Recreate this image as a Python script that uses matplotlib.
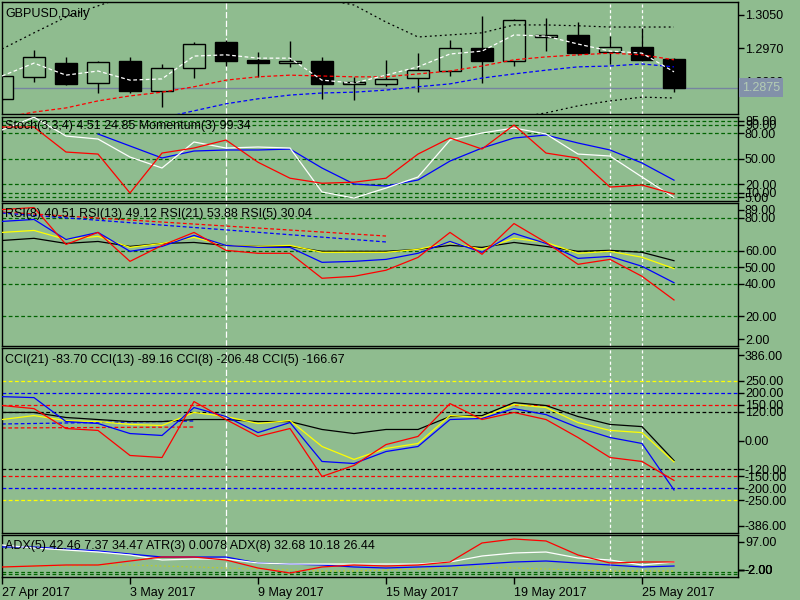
import matplotlib
matplotlib.use('Agg')
import matplotlib.pyplot as plt
import numpy as np
from matplotlib.patches import Rectangle

plt.rcParams['font.family'] = ['Liberation Sans', 'DejaVu Sans']
FS = 9
plt.rcParams['font.size'] = FS

BG = '#8fbc8f'
GRID = '#006400'

# # # DATA # # #
dates = ['27 Apr 2017', '3 May 2017', '9 May 2017', '15 May 2017', '19 May 2017', '25 May 2017']
date_idx = [0, 4, 8, 12, 16, 20]
marker_bars = [7, 19, 20]  # white dashed vertical lines

opens = [1.2848, 1.2901, 1.2934, 1.2886, 1.2939, 1.2867, 1.2922, 1.2985, 1.2942, 1.2934, 1.2939,
         1.2884, 1.2884, 1.2898, 1.2915, 1.2970, 1.2939, 1.2997, 1.3002, 1.2961, 1.2973, 1.2944]
highs = [1.2905, 1.2966, 1.2949, 1.2939, 1.2949, 1.2932, 1.2985, 1.2990, 1.2961, 1.2987, 1.2949,
         1.2901, 1.2942, 1.2958, 1.2990, 1.3048, 1.3040, 1.3043, 1.3033, 1.2999, 1.3019, 1.2946]
lows = [1.2845, 1.2889, 1.2881, 1.2862, 1.2862, 1.2828, 1.2898, 1.2927, 1.2901, 1.2925, 1.2848,
        1.2845, 1.2879, 1.2864, 1.2903, 1.2886, 1.2927, 1.2963, 1.2954, 1.2932, 1.2939, 1.2864]
closes = [1.2903, 1.2949, 1.2884, 1.2937, 1.2867, 1.2922, 1.2980, 1.2939, 1.2934, 1.2939, 1.2884,
          1.2889, 1.2896, 1.2918, 1.2970, 1.2939, 1.3038, 1.3002, 1.2958, 1.2973, 1.2942, 1.2875]

ma_fast = [1.2903, 1.2934, 1.2905, 1.2915, 1.2893, 1.2896, 1.2951, 1.2954, 1.2946, 1.2946, 1.2893,
           1.2886, 1.2905, 1.2925, 1.2956, 1.2963, 1.3002, 1.2999, 1.2980, 1.2963, 1.2958, 1.2913]
ma_mid = [1.2802, 1.2816, 1.2826, 1.2843, 1.2855, 1.2864, 1.2877, 1.2893, 1.2901, 1.2905, 1.2903,
          1.2901, 1.2901, 1.2908, 1.2915, 1.2927, 1.2942, 1.2949, 1.2954, 1.2958, 1.2954, 1.2942]
ma_slow = [1.2770, 1.2775, 1.2782, 1.2790, 1.2797, 1.2802, 1.2819, 1.2836, 1.2848, 1.2857, 1.2862,
           1.2864, 1.2869, 1.2877, 1.2884, 1.2898, 1.2908, 1.2917, 1.2925, 1.2927, 1.2932, 1.2925]
band_up = [1.2968, 1.3007, 1.3045, 1.3072, 1.3098, 1.3110, 1.3115, 1.3110, 1.3105, 1.3098, 1.3089,
           1.3074, 1.3033, 1.2997, 1.3002, 1.3007, 1.3026, 1.3026, 1.3024, 1.3021, 1.3021, 1.3021]
band_dn = [1.2790, 1.2775, 1.2755, 1.2740, 1.2728, 1.2722, 1.2718, 1.2722, 1.2730, 1.2740, 1.2752,
           1.2765, 1.2780, 1.2795, 1.2798, 1.2800, 1.2802, 1.2814, 1.2831, 1.2843, 1.2852, 1.2850]

stoch_main = [83.9, 99.0, 76.8, 73.3, 52.1, 39.2, 69.8, 62.7, 63.9, 62.7, 11.0,
              3.9, 15.6, 28.6, 72.1, 80.4, 86.2, 79.2, 55.6, 53.3, 28.6, 4.5]
stoch_signal = [np.nan, np.nan, np.nan, 79.2, 65.1, 51.0, 59.2, 60.4, 60.4, 61.5, 39.2,
                20.4, 18.0, 25.1, 47.4, 62.7, 74.5, 78.0, 68.6, 60.4, 45.1, 24.9]
momentum = [87.4, 87.4, 58.0, 55.6, 9.8, 56.8, 62.7, 72.1, 46.0, 27.2, 21.3,
            22.5, 27.2, 55.6, 74.5, 61.5, 89.8, 56.8, 50.9, 16.8, 19.2, 8.6]

rsi5 = [85.0, 86.2, 63.8, 71.1, 53.5, 63.2, 71.1, 60.2, 58.4, 58.4, 43.2,
        44.4, 48.1, 55.9, 71.1, 57.8, 76.5, 65.0, 51.7, 54.7, 44.4, 30.0]
rsi8 = [77.8, 79.0, 66.8, 71.1, 59.6, 62.6, 69.3, 63.2, 62.0, 62.0, 52.9,
        53.5, 54.7, 58.4, 65.6, 59.0, 70.5, 64.4, 55.3, 56.5, 50.5, 40.5]
rsi13 = [71.1, 72.3, 66.8, 68.7, 62.0, 64.4, 68.1, 63.2, 62.6, 63.2, 59.0,
         59.0, 59.0, 60.8, 65.0, 60.8, 67.5, 65.0, 58.4, 59.6, 56.0, 49.1]
rsi21 = [66.2, 67.5, 64.4, 65.6, 62.6, 64.4, 65.0, 63.2, 62.6, 62.6, 59.6,
         59.6, 59.6, 60.8, 63.2, 62.0, 65.0, 62.6, 59.6, 60.2, 59.0, 53.9]
rsi_trend_x = [0, 12]
rsi_trend_red = [83.5, 68.9]
rsi_trend_blue = [82.9, 65.3]

cci21 = [117, 117, 96, 87.5, 79, 79, 87.5, 87.5, 79, 79, 46,
         29, 46, 46, 100, 104, 158, 146, 100, 67, 58, -83.7]
cci13 = [87.5, 104, 83, 79, 67, 62.5, 117, 100, 71, 83, -25,
         -79, -33, -12.5, 104, 96, 150, 137.5, 75, 42, 33, -89.2]
cci8 = [183, 179, 79, 71, 29, 21, 137.5, 100, 33, 75, -87.5,
        -96, -46, -25, 87.5, 92, 133, 108, 54, 12.5, -12.5, -206.5]
cci5 = [146, 133, 50, 42, -62.5, -71, 162.5, 87.5, 17, 50, -150,
        -104, -17, 17, 154, 87.5, 117, 87.5, 12.5, -71, -87.5, -166.7]
cci_trend_x = [0, 6]
cci_trend_blue = [68.9, 81.4]
cci_trend_red = [52.2, 56.3]

adx_main = [68.7, 68.7, 64.0, 59.3, 52.2, 45.1, 45.1, 45.1, 31.0, 28.6, 26.3,
            21.6, 19.2, 21.6, 23.9, 28.6, 33.4, 35.7, 31.0, 26.3, 21.6, 23.9]
adx_plus = [21.6, 23.9, 26.3, 26.3, 35.7, 45.1, 45.1, 38.1, 19.2, 7.4, 21.6,
            26.3, 23.9, 26.3, 33.4, 78.2, 87.6, 82.9, 49.9, 31.0, 33.4, 33.4]
adx_minus = [73.4, 66.4, 61.6, 56.9, 49.9, 38.1, 40.4, 40.4, 31.0, 28.6, 28.6,
             28.6, 28.6, 28.6, 33.4, 47.5, 54.6, 56.9, 42.8, 38.1, 26.3, 33.4]
atr = [21.6, 23.9, 23.9, 26.3, 26.3, 23.9, 21.6, 19.2, 16.9, 14.5, 12.1,
       12.1, 14.5, 16.9, 19.2, 21.6, 19.2, 16.9, 14.5, 12.1, 12.1, 12.1]

x = np.arange(len(closes))

# # # FIGURE # # #
fig = plt.figure(figsize=(8, 6), dpi=100, facecolor=BG)


def panel(top, bottom):
    ax = fig.add_axes([2 / 800, 1 - bottom / 600, 736 / 800, (bottom - top) / 600])
    ax.set_facecolor(BG)
    ax.set_xlim(0, 23)
    ax.set_xticks([])
    for s in ax.spines.values():
        s.set_color('black')
        s.set_linewidth(1)
    for b in marker_bars:
        ls = (0, (5, 2)) if b == 7 else (0, (2.5, 2))
        ax.axvline(b, color='white', lw=0.9, ls=ls, zorder=1)
    return ax


def right_axis(ax, lo, hi, levels, fmt='{:.2f}', pad_px=7):
    ax.set_ylim(lo, hi)
    h_px = ax.get_position().height * 600
    upp = (hi - lo) / h_px
    pos = [min(max(v, lo + pad_px * upp), hi - pad_px * upp) for v in levels]
    ax.yaxis.tick_right()
    ax.set_yticks(pos)
    ax.set_yticklabels([fmt.format(v) for v in levels])
    ax.tick_params(axis='y', direction='out', length=4, width=1, pad=1, labelsize=FS)


def title(ax, txt, dy=-3.5):
    ax.annotate(txt, xy=(0, 1), xycoords='axes fraction', xytext=(2.5, dy),
                textcoords='offset points', ha='left', va='top', fontsize=FS, zorder=6)


def levels(ax, vals, color=GRID):
    for v in vals:
        ax.axhline(v, color=color, lw=0.9, ls=(0, (3, 2)), zorder=1)


# # # MAIN PANEL # # #
ax0 = panel(2, 114)
right_axis(ax0, 1.28114, 1.30813, [1.3050, 1.2970, 1.2890], fmt='{:.4f}')
ax0.axhline(closes[-1], color='#7684a0', lw=1, zorder=0.5)
w = 0.68
for i in range(len(closes)):
    o, h, l, c = opens[i], highs[i], lows[i], closes[i]
    lo_b, hi_b = min(o, c), max(o, c)
    ax0.vlines(i, l, lo_b, color='black', lw=1, zorder=2)
    ax0.vlines(i, hi_b, h, color='black', lw=1, zorder=2)
    fc = 'black' if c < o else BG
    ax0.add_patch(Rectangle((i - w / 2, lo_b), w, max(hi_b - lo_b, 0.00003),
                            facecolor=fc, edgecolor='black', lw=1, zorder=2))
ax0.plot(x, band_up, color='black', lw=0.9, ls=(0, (1.5, 2.5)), zorder=3)
ax0.plot(x, band_dn, color='black', lw=0.9, ls=(0, (1.5, 2.5)), zorder=3)
ax0.plot(x, ma_slow, color='blue', lw=0.9, ls=(0, (3, 2)), zorder=3)
ax0.plot(x, ma_mid, color='red', lw=0.9, ls=(0, (3, 2)), zorder=3)
ax0.plot(x, ma_fast, color='white', lw=0.9, ls=(0, (3, 2)), zorder=3)
title(ax0, 'GBPUSD,Daily', dy=-4.5)
ax0.annotate(f'{closes[-1]:.4f}', xy=(1, closes[-1]), xycoords=('axes fraction', 'data'),
             xytext=(3, 0), textcoords='offset points', ha='left', va='center',
             color='#b4ccb4', fontsize=FS, annotation_clip=False, zorder=10,
             bbox=dict(boxstyle='square,pad=0.25', fc='#8291a9', ec='none'))

# # # STOCH / MOMENTUM # # #
ax1 = panel(117, 201)
right_axis(ax1, 0.4, 99.2, [95, 90, 80, 50, 20, 10, 5], pad_px=3)
levels(ax1, [95, 90, 80, 50, 20, 10, 5])
ax1.plot(x, stoch_signal, color='blue', lw=0.9, zorder=3)
ax1.plot(x, stoch_main, color='white', lw=0.9, zorder=3)
ax1.plot(x, momentum, color='red', lw=0.9, zorder=3)
title(ax1, 'Stoch(3,3,4) 4.51 24.85 Momentum(3) 99.34', dy=-2.5)

# # # RSI # # #
ax2 = panel(203, 346)
right_axis(ax2, 2, 89, [89, 80, 60, 50, 40, 20, 2])
levels(ax2, [80, 60, 50, 40, 20])
ax2.plot(rsi_trend_x, rsi_trend_red, color='red', lw=0.9, ls=(0, (3, 2)), zorder=2)
ax2.plot(rsi_trend_x, rsi_trend_blue, color='blue', lw=0.9, ls=(0, (3, 2)), zorder=2)
ax2.plot(x, rsi21, color='black', lw=0.9, zorder=3)
ax2.plot(x, rsi13, color='yellow', lw=0.9, zorder=3)
ax2.plot(x, rsi8, color='blue', lw=0.9, zorder=3)
ax2.plot(x, rsi5, color='red', lw=0.9, zorder=3)
title(ax2, 'RSI(8) 40.51 RSI(13) 49.12 RSI(21) 53.88 RSI(5) 30.04')

# # # CCI # # #
ax3 = panel(348, 533)
right_axis(ax3, -386, 386, [386, 250, 200, 150, 120, 0, -120, -150, -200, -250, -386])
for lv, col in [(250, 'yellow'), (200, 'blue'), (150, 'red'), (120, 'black')]:
    levels(ax3, [lv, -lv], color=col)
ax3.plot(cci_trend_x, cci_trend_blue, color='blue', lw=0.9, ls=(0, (3, 2)), zorder=2)
ax3.plot(cci_trend_x, cci_trend_red, color='red', lw=0.9, ls=(0, (3, 2)), zorder=2)
ax3.plot(x, cci21, color='black', lw=0.9, zorder=3)
ax3.plot(x, cci13, color='yellow', lw=0.9, zorder=3)
ax3.plot(x, cci8, color='blue', lw=0.9, zorder=3)
ax3.plot(x, cci5, color='red', lw=0.9, zorder=3)
title(ax3, 'CCI(21) -83.70 CCI(13) -89.16 CCI(8) -206.48 CCI(5) -166.67', dy=-4)

# # # ADX / ATR # # #
ax4 = panel(535, 577)
right_axis(ax4, -2, 97, [97, 10, 5, -2])
levels(ax4, [10, 5])
ax4.plot(x, atr, color='#b8cc30', lw=0.9, ls=(0, (1.5, 2)), zorder=2)
ax4.plot(x, adx_main, color='blue', lw=0.9, zorder=3)
ax4.plot(x, adx_minus, color='white', lw=0.9, zorder=3)
ax4.plot(x, adx_plus, color='red', lw=0.9, zorder=3)
title(ax4, 'ADX(5) 42.46 7.37 34.47 ATR(3) 0.0078 ADX(8) 32.68 10.18 26.44', dy=-3.5)
ax4.set_xticks(date_idx)
ax4.set_xticklabels(dates, ha='left')
ax4.tick_params(axis='x', direction='out', length=5, width=1, pad=2, labelsize=FS)

fig.savefig('out.png', dpi=100, facecolor=BG)
